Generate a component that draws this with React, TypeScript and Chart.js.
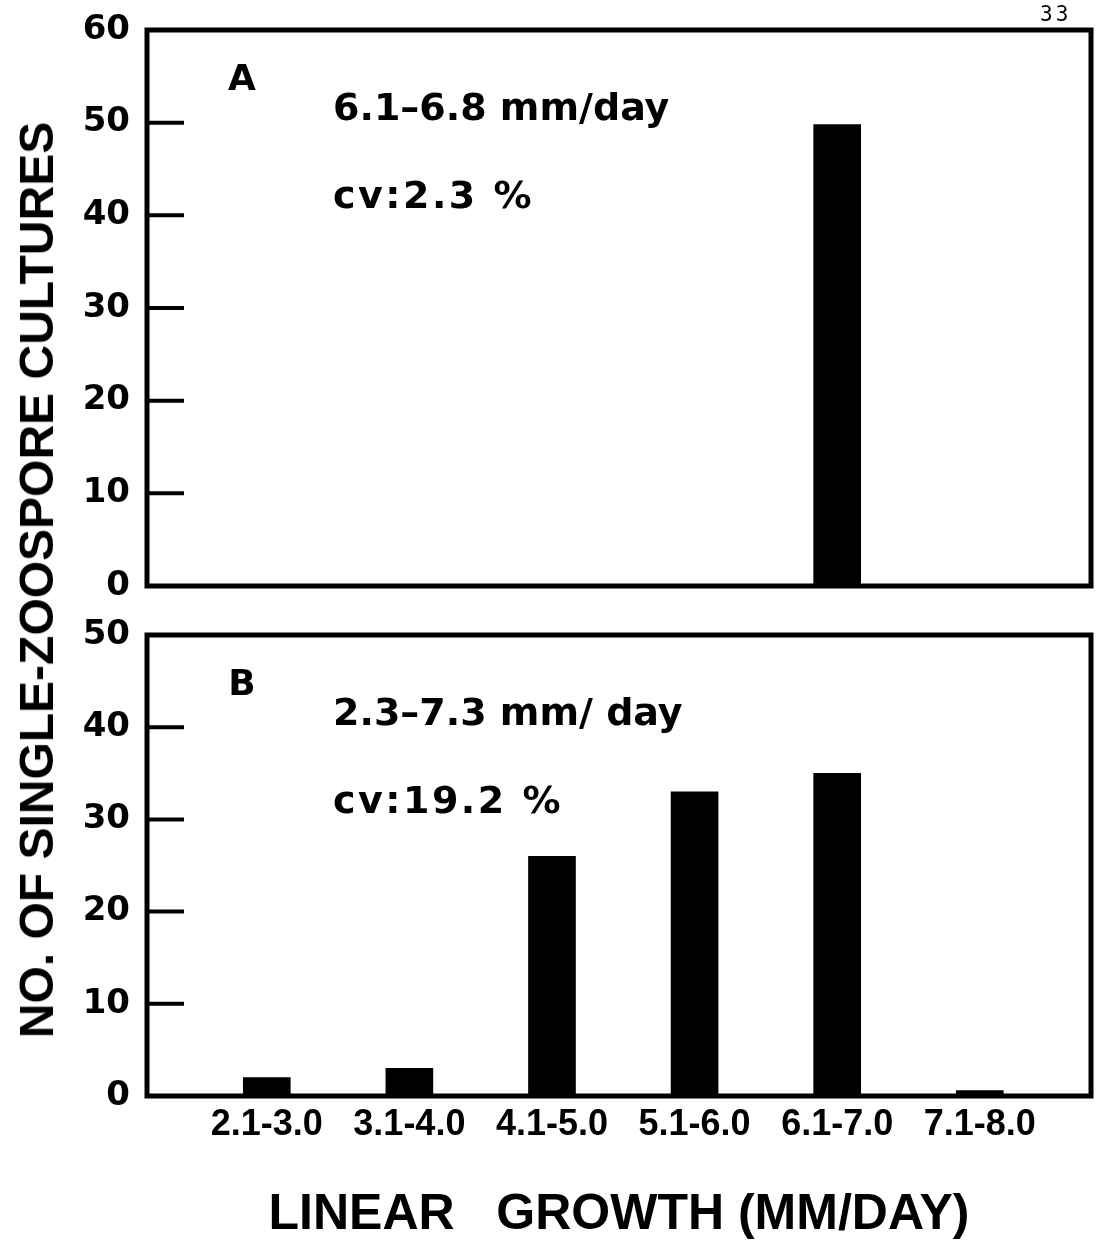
import React, { useEffect, useRef } from "react";
import { Chart, registerables } from "chart.js";

Chart.register(...registerables);

// ---- data ----
const categories = ["2.1-3.0", "3.1-4.0", "4.1-5.0", "5.1-6.0", "6.1-7.0", "7.1-8.0"];
const countsA = [0, 0, 0, 0, 49.8, 0];
const countsB = [2, 3, 26, 33, 35, 0.6];
const yTicksA = [0, 10, 20, 30, 40, 50, 60];
const yTicksB = [0, 10, 20, 30, 40, 50];
const panelTextA = ["A", "6.1–6.8 mm/day", "cv:2.3 %"];
const panelTextB = ["B", "2.3–7.3 mm/ day", "cv:19.2 %"];
const yTitle = "NO. OF SINGLE-ZOOSPORE CULTURES";
const xTitle = "LINEAR   GROWTH (MM/DAY)";
const pageNumber = "33";

const W = 1099;
const HA = 610;
const HB = 635;

const framePlugin = {
  id: "frame",
  afterDatasetsDraw(chart: any, _args: any, opts: any) {
    const { ctx, chartArea } = chart;
    const { left, top, right, bottom } = chartArea;
    const y = chart.scales.y;
    ctx.save();
    ctx.strokeStyle = "#000";
    ctx.fillStyle = "#000";
    ctx.lineWidth = 4;
    for (const v of opts.ticks as number[]) {
      if (v === y.min || v === y.max) continue;
      const py = y.getPixelForValue(v);
      ctx.beginPath();
      ctx.moveTo(left, py);
      ctx.lineTo(left + 37, py);
      ctx.stroke();
    }
    ctx.lineWidth = 5;
    ctx.strokeRect(left, top, right - left, bottom - top);

    const [letter, range, cv] = opts.texts as string[];
    ctx.textBaseline = "middle";
    ctx.textAlign = "center";
    ctx.font = "bold 36px 'DejaVu Sans'";
    ctx.fillText(letter, left + 95, top + 51);
    ctx.textAlign = "left";
    ctx.font = "bold 38px 'DejaVu Sans'";
    ctx.fillText(range, left + 186, top + 80);
    (ctx as any).letterSpacing = "2.5px";
    ctx.fillText(cv, left + 186, top + 168);
    (ctx as any).letterSpacing = "0px";
    ctx.restore();
  },
};

function makeConfig(counts: number[], yTicks: number[], texts: string[], showX: boolean, padTop: number, padBottom: number): any {
  const yMax = yTicks[yTicks.length - 1];
  return {
    type: "bar",
    data: {
      datasets: [
        {
          data: counts.map((v, i) => ({ x: i, y: v })),
          backgroundColor: "#000",
          borderWidth: 0,
          barThickness: 47,
        },
      ],
    },
    options: {
      responsive: false,
      animation: false,
      devicePixelRatio: 1,
      layout: { padding: { top: padTop, right: 8, bottom: padBottom, left: 0 } },
      plugins: {
        legend: { display: false },
        tooltip: { enabled: false },
        frame: { ticks: yTicks, texts },
      },
      scales: {
        x: {
          type: "linear",
          display: showX,
          offset: false,
          min: -0.84,
          max: 5.78,
          afterBuildTicks: (s: any) => {
            s.ticks = categories.map((_, i) => ({ value: i }));
          },
          afterFit: (s: any) => {
            if (showX) s.height = 149;
            s.paddingLeft = 0;
            s.paddingRight = 0;
          },
          grid: { display: false, drawTicks: false },
          border: { display: false },
          ticks: {
            autoSkip: false,
            maxRotation: 0,
            minRotation: 0,
            padding: 7,
            color: "#000",
            font: { family: "'Liberation Sans'", weight: "bold", size: 36 },
            callback: (v: any) => categories[v] ?? "",
          },
          title: {
            display: showX,
            text: xTitle,
            color: "#000",
            padding: 0,
            font: { family: "'Liberation Sans'", weight: "bold", size: 50, lineHeight: 1.2 },
          },
        },
        y: {
          min: 0,
          max: yMax,
          afterBuildTicks: (s: any) => {
            s.ticks = yTicks.map((v) => ({ value: v }));
          },
          afterFit: (s: any) => {
            s.width = 147;
            s.paddingTop = 0;
            s.paddingBottom = 0;
          },
          grid: { display: false, drawTicks: false },
          border: { display: false },
          ticks: {
            padding: 17,
            color: "#000",
            font: { family: "'DejaVu Sans'", weight: "bold", size: 34 },
          },
        },
      },
    },
    plugins: [framePlugin],
  };
}

export default function App() {
  const refA = useRef<HTMLCanvasElement>(null);
  const refB = useRef<HTMLCanvasElement>(null);

  useEffect(() => {
    const a = new Chart(refA.current!, makeConfig(countsA, yTicksA, panelTextA, false, 30, 24));
    const b = new Chart(refB.current!, makeConfig(countsB, yTicksB, panelTextB, true, 25, 0));
    return () => {
      a.destroy();
      b.destroy();
    };
  }, []);

  return (
    <div style={{ position: "absolute", left: 0, top: 0, width: W, height: HA + HB, background: "#fff", overflow: "hidden" }}>
      <canvas ref={refA} width={W} height={HA} style={{ position: "absolute", left: 0, top: 0, width: W, height: HA }} />
      <canvas ref={refB} width={W} height={HB} style={{ position: "absolute", left: 0, top: HA, width: W, height: HB }} />
      <div
        style={{
          position: "absolute",
          left: 37,
          top: 580,
          transform: "translate(-50%, -50%) rotate(-90deg)",
          whiteSpace: "nowrap",
          font: "bold 48px 'Liberation Sans'",
          color: "#000",
          lineHeight: 1,
        }}
      >
        {yTitle}
      </div>
      <div
        style={{
          position: "absolute",
          left: 1040,
          top: 2,
          font: "21px 'DejaVu Sans Mono'",
          letterSpacing: 3,
          color: "#000",
        }}
      >
        {pageNumber}
      </div>
    </div>
  );
}
